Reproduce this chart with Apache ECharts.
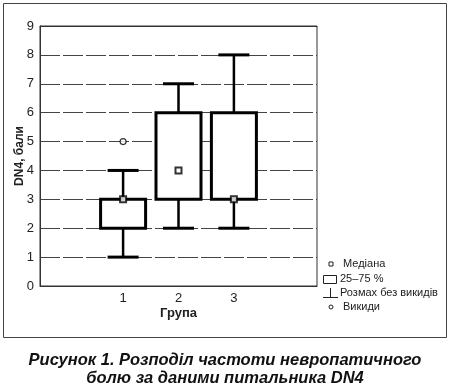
<!DOCTYPE html>
<html><head><meta charset="utf-8">
<script src="https://cdn.jsdelivr.net/npm/echarts@6/dist/echarts.min.js"></script>
<style>html,body{margin:0;padding:0;background:#fff}#c{width:450px;height:391px}</style>
</head><body><div id="c"></div>
<script>
const categories = ['', '1', '2', '3', ''];
const groups = ['1', '2', '3'];
const whiskerMin = [1, 2, 2];
const q1 = [2, 3, 3];
const medians = [3, 4, 3];
const q3 = [3, 6, 6];
const whiskerMax = [4, 7, 8];
const outliers = [['1', 5]];
const yTicks = [0, 1, 2, 3, 4, 5, 6, 7, 8, 9];
const legendLabels = ['Медіана', '25–75 %', 'Розмах без викидів', 'Викиди'];
const yName = 'DN4, бали';
const xName = 'Група';
const captionLines = ['Рисунок 1. Розподіл частоти невропатичного', 'болю за даними питальника DN4'];

const boxData = groups.map((g, i) => [g, whiskerMin[i], q1[i], medians[i], q3[i], whiskerMax[i]]);
const medianData = groups.map((g, i) => [g, medians[i]]);

const chart = echarts.init(document.getElementById('c'), null, {renderer: 'canvas'});
const font = 'Arial, "Liberation Sans", sans-serif';

function renderBox(params, api) {
  const x = api.value(0);
  const pMin = api.coord([x, api.value(1)]);
  const pQ1 = api.coord([x, api.value(2)]);
  const pQ3 = api.coord([x, api.value(4)]);
  const pMax = api.coord([x, api.value(5)]);
  const bw = 45, cw = 31, cx = pQ1[0];
  const st = {stroke: '#000', lineWidth: 3, fill: null};
  const ss = {stroke: '#000', lineWidth: 2.5, fill: null};
  return {type: 'group', children: [
    {type: 'line', shape: {x1: cx, y1: pQ3[1], x2: cx, y2: pMax[1]}, style: ss},
    {type: 'line', shape: {x1: cx, y1: pQ1[1], x2: cx, y2: pMin[1]}, style: ss},
    {type: 'line', shape: {x1: cx - cw/2, y1: pMax[1], x2: cx + cw/2, y2: pMax[1]}, style: st},
    {type: 'line', shape: {x1: cx - cw/2, y1: pMin[1], x2: cx + cw/2, y2: pMin[1]}, style: st},
    {type: 'rect', shape: {x: cx - bw/2, y: pQ3[1], width: bw, height: pQ1[1] - pQ3[1]}, style: {stroke: '#000', lineWidth: 3, fill: '#fff'}}
  ]};
}

const lgStyle = {fontSize: 11, fontFamily: font, fill: '#222'};
chart.setOption({
  animation: false,
  backgroundColor: '#fff',
  grid: {left: 40, right: 133, top: 26, bottom: 105, show: true, borderColor: '#333', borderWidth: 1, containLabel: false, outerBoundsMode: 'none'},
  xAxis: [{
    type: 'category', data: categories, boundaryGap: true,
    axisLine: {lineStyle: {color: '#333'}},
    axisTick: {inside: true, alignWithLabel: true, length: 3, lineStyle: {color: '#333'}},
    axisLabel: {color: '#222', fontSize: 13, fontFamily: font, margin: 6},
    name: xName, nameLocation: 'middle', nameGap: 21, nameMoveOverlap: false,
    nameTextStyle: {fontWeight: 'bold', fontSize: 13, fontFamily: font, color: '#222'}
  }, {
    type: 'category', data: categories, position: 'top', boundaryGap: true,
    axisLine: {lineStyle: {color: '#333'}},
    axisTick: {inside: true, alignWithLabel: true, length: 3, lineStyle: {color: '#333'}},
    axisLabel: {show: false}
  }],
  yAxis: {
    type: 'value', min: 0, max: 9, interval: 1,
    axisLine: {show: true, lineStyle: {color: '#333'}},
    axisTick: {show: false},
    axisLabel: {color: '#222', fontSize: 13, fontFamily: font, margin: 6,
      formatter: v => yTicks.includes(v) ? String(v) : ''},
    splitLine: {show: true, lineStyle: {color: '#444', width: 1, type: [20, 3]}},
    name: yName, nameLocation: 'middle', nameGap: 20, nameRotate: 90, nameMoveOverlap: false,
    nameTextStyle: {fontWeight: 'bold', fontSize: 12, fontFamily: font, color: '#222', verticalAlign: 'middle'}
  },
  series: [
    {type: 'custom', renderItem: renderBox, data: boxData, encode: {x: 0, y: [1, 2, 3, 4, 5]}, z: 3},
    {type: 'scatter', data: medianData, symbol: 'rect', symbolSize: 6,
      itemStyle: {color: '#fff', borderColor: '#000', borderWidth: 2}, z: 5},
    {type: 'scatter', data: outliers, symbol: 'circle', symbolSize: 6,
      itemStyle: {color: '#fff', borderColor: '#000', borderWidth: 1.2}, z: 5}
  ],
  graphic: [
    {type: 'rect', shape: {x: 3.5, y: 3.5, width: 443, height: 334}, style: {stroke: '#444', lineWidth: 1, fill: null}, z: -1},
    {type: 'rect', shape: {x: 329, y: 262, width: 4, height: 4}, style: {stroke: '#222', lineWidth: 1, fill: '#fff'}},
    {type: 'rect', shape: {x: 323.5, y: 275.5, width: 13, height: 8}, style: {stroke: '#222', lineWidth: 1, fill: '#fff'}},
    {type: 'line', shape: {x1: 330.5, y1: 288, x2: 330.5, y2: 298}, style: {stroke: '#222', lineWidth: 1}},
    {type: 'line', shape: {x1: 323, y1: 297.5, x2: 338, y2: 297.5}, style: {stroke: '#222', lineWidth: 1}},
    {type: 'circle', shape: {cx: 331, cy: 307, r: 2}, style: {stroke: '#222', lineWidth: 1, fill: '#fff'}},
    {type: 'text', x: 343, y: 264, style: Object.assign({text: legendLabels[0], verticalAlign: 'middle'}, lgStyle)},
    {type: 'text', x: 340, y: 279, style: Object.assign({text: legendLabels[1], verticalAlign: 'middle'}, lgStyle)},
    {type: 'text', x: 340, y: 293, style: Object.assign({text: legendLabels[2], verticalAlign: 'middle'}, lgStyle)},
    {type: 'text', x: 343, y: 307, style: Object.assign({text: legendLabels[3], verticalAlign: 'middle'}, lgStyle)},
    {type: 'text', x: 225, y: 360, style: {text: captionLines[0], align: 'center', verticalAlign: 'middle', fontSize: 16.5, fontWeight: 'bold', fontStyle: 'italic', fontFamily: font, fill: '#111'}},
    {type: 'text', x: 225, y: 378, style: {text: captionLines[1], align: 'center', verticalAlign: 'middle', fontSize: 16.5, fontWeight: 'bold', fontStyle: 'italic', fontFamily: font, fill: '#111'}}
  ]
});
</script></body></html>
